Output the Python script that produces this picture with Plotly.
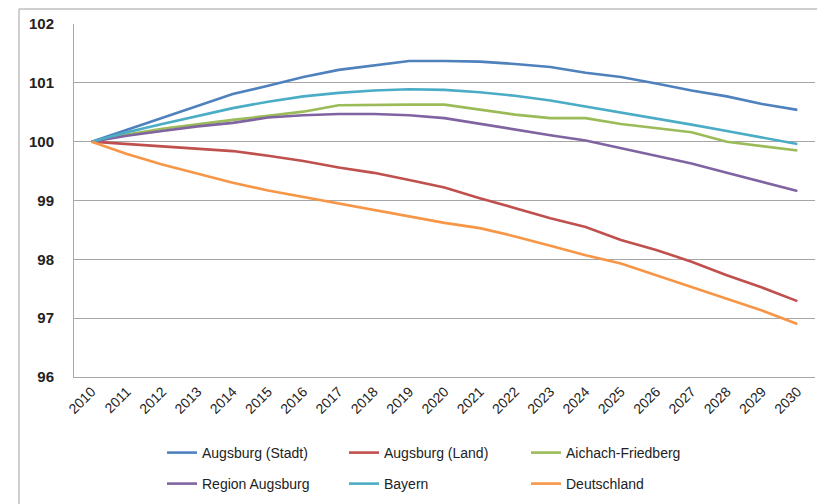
import plotly.graph_objects as go

years = [str(y) for y in range(2010, 2031)]

augsburg_stadt = [100.0, 100.2, 100.4, 100.6, 100.81, 100.95, 101.1, 101.22, 101.3, 101.37, 101.37,
                  101.36, 101.32, 101.27, 101.17, 101.1, 100.99, 100.87, 100.77, 100.64, 100.54]
augsburg_land = [100.0, 99.96, 99.93, 99.88, 99.84, 99.76, 99.67, 99.56, 99.47, 99.35, 99.22,
                 99.04, 98.87, 98.70, 98.55, 98.33, 98.16, 97.96, 97.73, 97.52, 97.29]
aichach_friedberg = [100.0, 100.12, 100.22, 100.3, 100.37, 100.44, 100.51, 100.62, 100.63, 100.63, 100.63,
                     100.55, 100.46, 100.40, 100.40, 100.30, 100.23, 100.16, 100.0, 99.93, 99.85]
region_augsburg = [100.0, 100.1, 100.18, 100.26, 100.32, 100.41, 100.45, 100.47, 100.47, 100.45, 100.40,
                   100.30, 100.21, 100.11, 100.02, 99.89, 99.76, 99.63, 99.47, 99.32, 99.16]
bayern = [100.0, 100.16, 100.3, 100.44, 100.57, 100.68, 100.77, 100.83, 100.87, 100.89, 100.88,
          100.84, 100.78, 100.70, 100.60, 100.50, 100.40, 100.29, 100.18, 100.07, 99.96]
deutschland = [100.0, 99.79, 99.61, 99.45, 99.30, 99.17, 99.06, 98.95, 98.83, 98.72, 98.62,
               98.53, 98.39, 98.23, 98.07, 97.93, 97.73, 97.54, 97.34, 97.13, 96.90]

series = [
    ("Augsburg (Stadt)", augsburg_stadt, "#4F81BD", "legend"),
    ("Augsburg (Land)", augsburg_land, "#C0504D", "legend"),
    ("Aichach-Friedberg", aichach_friedberg, "#9BBB59", "legend"),
    ("Region Augsburg", region_augsburg, "#8064A2", "legend2"),
    ("Bayern", bayern, "#4BACC6", "legend2"),
    ("Deutschland", deutschland, "#F79646", "legend2"),
]

y_ticks = [96, 97, 98, 99, 100, 101, 102]

FONT = "Liberation Sans, Arial, sans-serif"

fig = go.Figure()
for name, vals, color, lg in series:
    fig.add_trace(go.Scatter(x=years, y=vals, name=name, mode="lines",
                             line=dict(color=color, width=2.6), legend=lg))

# the page adds an 8px body margin, so target pixel positions are shifted by OFF
OFF = 8
W, H = 825, 504
L, T = 74 - OFF, 24 - OFF
R = W - (815 - OFF)
B = H - (377 - OFF)
pw = W - L - R
ph = H - T - B

def px(x):
    return (x - OFF - L) / pw

def py(y):
    return 1 - (y - OFF - T) / ph

legend_common = dict(orientation="h", xanchor="left", yanchor="middle",
                     xref="container", yref="container",
                     entrywidth=137, entrywidthmode="pixels",
                     font=dict(family=FONT, size=14, color="#222222"),
                     bgcolor="rgba(0,0,0,0)", itemwidth=30, tracegroupgap=0)

fig.update_layout(
    width=W, height=H,
    margin=dict(l=L, r=R, t=T, b=B, autoexpand=False),
    paper_bgcolor="white", plot_bgcolor="white",
    showlegend=True,
    legend=dict(x=(162 - OFF) / W, y=1 - (453 - OFF) / H, **legend_common),
    legend2=dict(x=(162 - OFF) / W, y=1 - (484 - OFF) / H, **legend_common),
    xaxis=dict(type="category", range=[-0.5, 20.5], tickangle=-45, automargin=False,
               tickfont=dict(family=FONT, size=14, color="#222222"),
               showgrid=False, showline=True, linecolor="#A6A6A6", linewidth=1,
               ticks="", zeroline=False),
    yaxis=dict(range=[96, 102], tickvals=y_ticks, ticktext=[str(v) for v in y_ticks], automargin=False,
               tickfont=dict(family=FONT, size=15, color="#222222", weight="bold"),
               showgrid=True, gridcolor="#A6A6A6", gridwidth=1,
               showline=True, linecolor="#A6A6A6", linewidth=1,
               ticks="", zeroline=False, ticklabelstandoff=16),
    shapes=[
        dict(type="line", xref="paper", yref="paper", x0=px(19), x1=px(840), y0=py(9), y1=py(9),
             line=dict(color="#BFBFBF", width=1.5)),
        dict(type="line", xref="paper", yref="paper", x0=px(19), x1=px(19), y0=py(9), y1=py(520),
             line=dict(color="#BFBFBF", width=1.5)),
    ],
)

fig.write_html("out.html")
